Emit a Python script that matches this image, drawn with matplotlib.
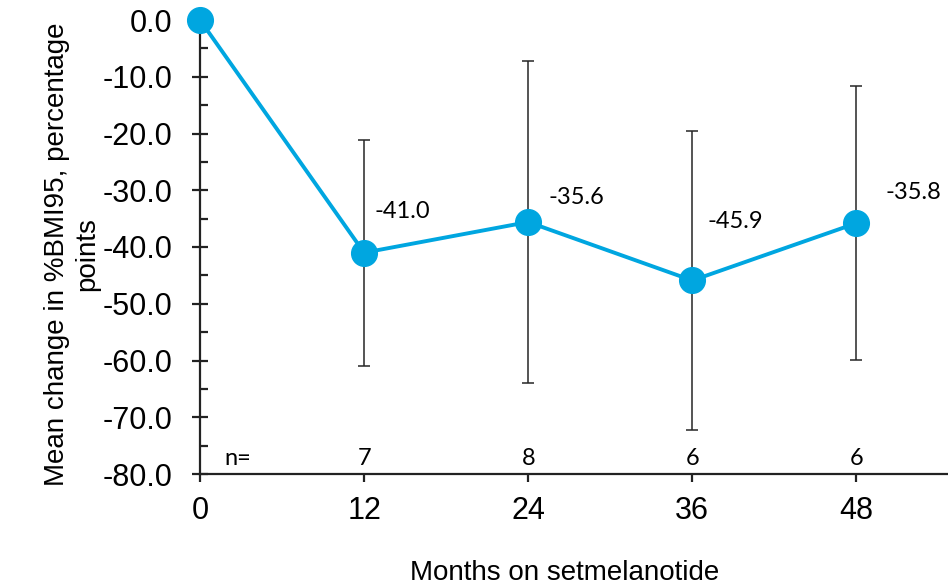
import matplotlib
matplotlib.use("Agg")
import matplotlib.pyplot as plt
from matplotlib.ticker import MultipleLocator, FormatStrFormatter

months = [0, 12, 24, 36, 48]
mean_change = [0.0, -41.0, -35.6, -45.9, -35.8]
sd = [0.0, 19.9, 28.4, 26.3, 24.1]
n_counts = ["7", "8", "6", "6"]
value_labels = ["-41.0", "-35.6", "-45.9", "-35.8"]

# label offsets from the point, pixels (right, up)
label_offsets = [(10, 41), (20, 25), (15, 59), (29, 31)]

line_color = "#00A6E0"
axis_color = "#222222"

fig = plt.figure(figsize=(9.48, 5.85), dpi=100)
ax = fig.add_axes([200 / 948, 111 / 585, 748 / 948, 454 / 585])

ax.errorbar(months[1:], mean_change[1:], yerr=sd[1:], fmt="none",
            ecolor="#262626", elinewidth=1.1, capsize=4.5, capthick=1.1, zorder=2)
ax.plot(months, mean_change, color=line_color, lw=2.8, marker="o",
        markersize=18.5, clip_on=False, zorder=3)

for x, y, lab, (dx, dy) in zip(months[1:], mean_change[1:], value_labels, label_offsets):
    ax.annotate(lab, (x, y), xytext=(dx * 0.72, dy * 0.72), textcoords="offset points",
                ha="left", va="center", fontsize=17, family="Lato", color="black")

ax.text(1.8, -77.2, "n=", ha="left", va="center", fontsize=17, family="Lato")
for x, n in zip(months[1:], n_counts):
    ax.text(x, -77.2, n, ha="center", va="center", fontsize=17, family="Lato")

ax.set_xlim(0, 54.7)
ax.set_ylim(-80, 0)
ax.set_xticks(months)
ax.yaxis.set_major_locator(MultipleLocator(10))
ax.yaxis.set_minor_locator(MultipleLocator(5))
ax.yaxis.set_major_formatter(FormatStrFormatter("%.1f"))

for s in ["top", "right"]:
    ax.spines[s].set_visible(False)
for s in ["left", "bottom"]:
    ax.spines[s].set_linewidth(1.6)
    ax.spines[s].set_color(axis_color)

ax.tick_params(axis="y", which="major", direction="inout", length=11.5, width=1.6,
               color=axis_color, labelsize=22, pad=14, labelfontfamily="Liberation Sans")
ax.tick_params(axis="y", which="minor", direction="in", length=5.8, width=1.6,
               color=axis_color)
ax.tick_params(axis="x", direction="out", length=5.8, width=1.6, color=axis_color,
               labelsize=22, pad=10, labelfontfamily="Liberation Sans")

ax.set_xlabel("Months on setmelanotide", fontsize=20, family="Liberation Sans")
ax.xaxis.set_label_coords(0.488, -0.19)
ax.set_ylabel("Mean change in %BMI95, percentage\npoints", fontsize=20,
              family="Liberation Sans", linespacing=1.2)
ax.yaxis.set_label_coords(-0.134, 0.485)

fig.savefig("out.png", dpi=100)
